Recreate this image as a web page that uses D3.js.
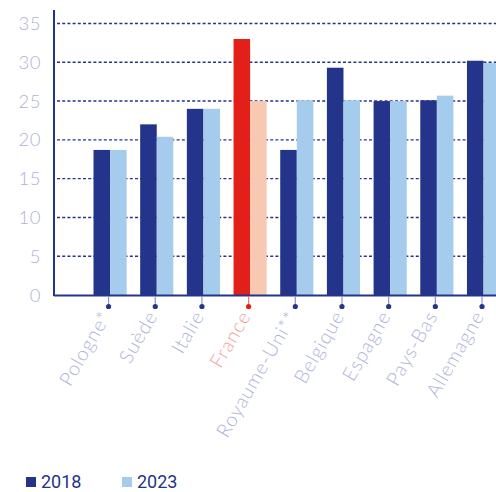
<!DOCTYPE html>
<html>
<head>
<meta charset="utf-8">
<script src="https://cdn.jsdelivr.net/npm/d3@7"></script>
<style>
  body { margin: 0; background: #fff; }
  svg { display: block; }
</style>
</head>
<body>
<svg width="496" height="492"></svg>
<script>
// data
var countries = ["Pologne*", "Suède", "Italie", "France", "Royaume-Uni**", "Belgique", "Espagne", "Pays-Bas", "Allemagne"];
var values2018 = [18.7, 22.0, 24.0, 33.0, 18.7, 29.3, 25.0, 25.1, 30.2];
var values2023 = [18.7, 20.4, 24.0, 25.0, 25.1, 25.1, 25.0, 25.7, 29.9];
var yTicks = [0, 5, 10, 15, 20, 25, 30, 35];
var seriesNames = ["2018", "2023"];

var navy = "#24348a", light = "#a6cced", red = "#e31f1a", peach = "#f9c8b3";
var labelCol = "#aeb3da";
var thinFont = "Lato, 'Open Sans', sans-serif";

var svg = d3.select("svg"),
    width = +svg.attr("width"),
    height = +svg.attr("height");

var x0 = 54, y0 = 295;

var x = d3.scaleBand()
    .domain(countries)
    .range([93.5, 500.1])
    .paddingInner(0.29)
    .paddingOuter(0);

var y = d3.scaleLinear()
    .domain([0, 35])
    .range([y0, 23.5]);

var bw = x.bandwidth() / 2;

// grid
svg.append("g")
    .selectAll("line")
    .data(yTicks.filter(function(d) { return d > 0; }))
    .enter().append("line")
    .attr("x1", x0 + 3).attr("x2", width)
    .attr("y1", function(d) { return y(d); })
    .attr("y2", function(d) { return y(d); })
    .attr("stroke", navy)
    .attr("stroke-width", 1.4)
    .attr("stroke-dasharray", "3,2.2");

// y labels
svg.append("g")
    .selectAll("text")
    .data(yTicks)
    .enter().append("text")
    .attr("x", 41)
    .attr("y", function(d) { return y(d) + 6.5; })
    .attr("text-anchor", "end")
    .attr("font-family", thinFont)
    .attr("font-weight", 300)
    .attr("font-size", 18.5)
    .attr("letter-spacing", 0.5)
    .attr("fill", labelCol)
    .text(function(d) { return d; });

// bars
var groups = svg.append("g")
    .selectAll("g")
    .data(countries)
    .enter().append("g");

groups.append("rect")
    .attr("x", function(d) { return x(d); })
    .attr("y", function(d, i) { return y(values2018[i]); })
    .attr("width", bw)
    .attr("height", function(d, i) { return y0 - y(values2018[i]); })
    .attr("fill", function(d) { return d === "France" ? red : navy; });

groups.append("rect")
    .attr("x", function(d) { return x(d) + bw; })
    .attr("y", function(d, i) { return y(values2023[i]); })
    .attr("width", bw)
    .attr("height", function(d, i) { return y0 - y(values2023[i]); })
    .attr("fill", function(d) { return d === "France" ? peach : light; });

// axes lines
svg.append("line")
    .attr("x1", x0).attr("x2", x0)
    .attr("y1", 10).attr("y2", y0 + 1)
    .attr("stroke", navy).attr("stroke-width", 2);

svg.append("line")
    .attr("x1", x0).attr("x2", width)
    .attr("y1", y0 + 0.5).attr("y2", y0 + 0.5)
    .attr("stroke", navy).attr("stroke-width", 2);

// ticks with dots
var ticks = svg.append("g")
    .selectAll("g")
    .data(countries)
    .enter().append("g")
    .attr("transform", function(d) { return "translate(" + (x(d) + bw - 1.5) + ",0)"; });

ticks.append("line")
    .attr("y1", y0 + 1).attr("y2", 306)
    .attr("stroke", function(d) { return d === "France" ? "#ee7470" : "#8a92c6"; })
    .attr("stroke-width", 1.2);

ticks.append("circle")
    .attr("cy", 306.5)
    .attr("r", 2.6)
    .attr("fill", function(d) { return d === "France" ? red : navy; });

ticks.append("text")
    .attr("transform", "translate(3,316) rotate(-60)")
    .attr("text-anchor", "end")
    .attr("font-family", thinFont)
    .attr("font-weight", 300)
    .attr("font-size", 19.5)
    .attr("letter-spacing", 0.9)
    .attr("fill", function(d) { return d === "France" ? "#f4a09c" : labelCol; })
    .text(function(d) { return d; });

// legend
var legend = svg.append("g")
    .selectAll("g")
    .data(seriesNames)
    .enter().append("g")
    .attr("transform", function(d, i) { return "translate(" + (26 + i * 96) + ",477)"; });

legend.append("rect")
    .attr("width", 10).attr("height", 10)
    .attr("fill", function(d, i) { return i === 0 ? navy : light; });

legend.append("text")
    .attr("x", 15).attr("y", 11)
    .attr("font-family", "Roboto, sans-serif")
    .attr("font-size", 18)
    .attr("fill", navy)
    .text(function(d) { return d; });
</script>
</body>
</html>
